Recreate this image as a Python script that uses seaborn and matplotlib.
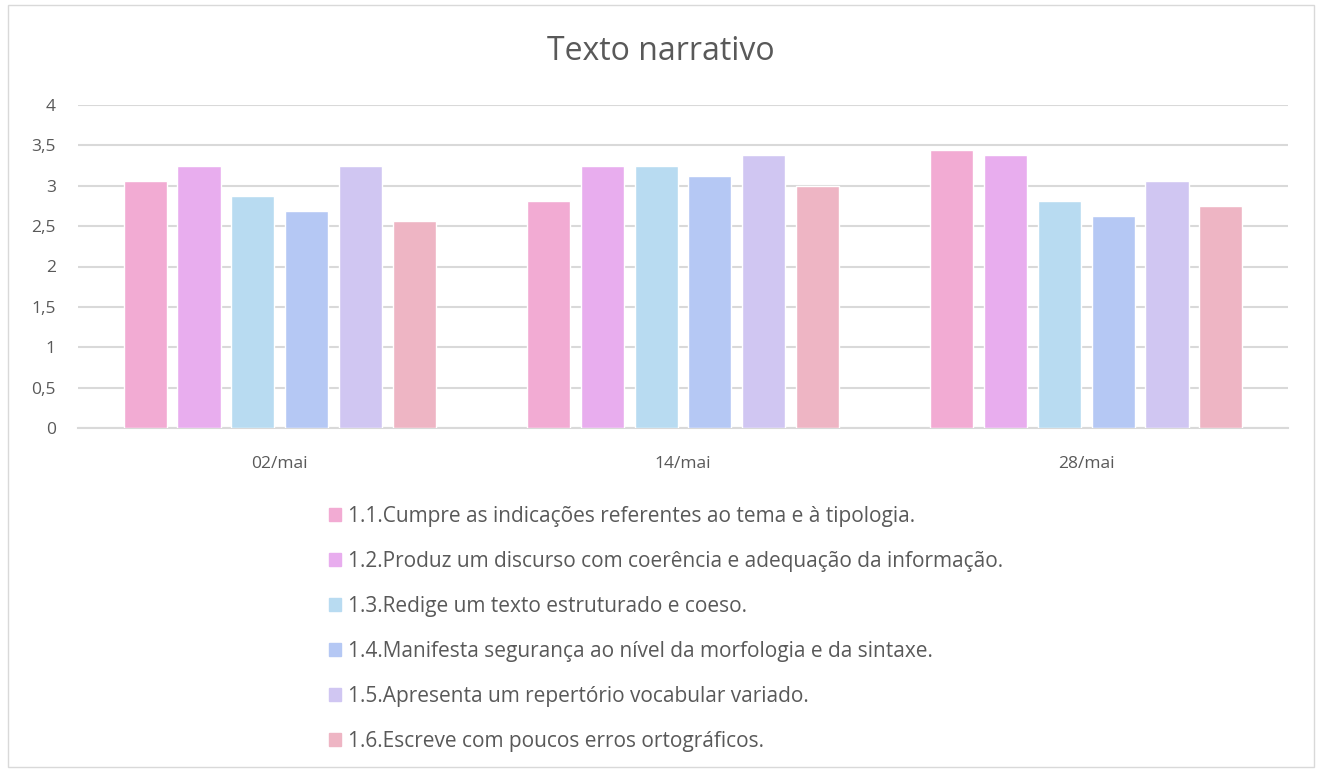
import matplotlib
matplotlib.use("Agg")
import matplotlib.pyplot as plt
import matplotlib.patches as mpatches
import pandas as pd
import seaborn as sns

dates = ["02/mai", "14/mai", "28/mai"]
criteria = [
    "1.1.Cumpre as indicações referentes ao tema e à tipologia.",
    "1.2.Produz um discurso com coerência e adequação da informação.",
    "1.3.Redige um texto estruturado e coeso.",
    "1.4.Manifesta segurança ao nível da morfologia e da sintaxe.",
    "1.5.Apresenta um repertório vocabular variado.",
    "1.6.Escreve com poucos erros ortográficos.",
]
scores = {
    criteria[0]: [3.0625, 2.8125, 3.4375],
    criteria[1]: [3.25, 3.25, 3.375],
    criteria[2]: [2.875, 3.25, 2.8125],
    criteria[3]: [2.6875, 3.125, 2.625],
    criteria[4]: [3.25, 3.375, 3.0625],
    criteria[5]: [2.5625, 3.0, 2.75],
}
colors = ["#F2ABD3", "#E8ADEE", "#B8DBF1", "#B5C8F4", "#D0C6F2", "#EEB5C4"]
y_ticks = [0, 0.5, 1, 1.5, 2, 2.5, 3, 3.5, 4]
y_labels = ["0", "0,5", "1", "1,5", "2", "2,5", "3", "3,5", "4"]

rows = []
for crit in criteria:
    for date, val in zip(dates, scores[crit]):
        rows.append({"data": date, "critério": crit, "valor": val})
df = pd.DataFrame(rows)

sns.set_theme(style="white")
plt.rcParams["font.family"] = ["Open Sans", "DejaVu Sans"]
text_color = "#595959"

fig = plt.figure(figsize=(13.22, 7.69), dpi=100)
ax = fig.add_axes([78 / 1322, 1 - 428 / 769, 1210 / 1322, 323 / 769])

sns.barplot(data=df, x="data", y="valor", hue="critério", hue_order=criteria,
            order=dates, palette=colors, width=0.8, gap=0.2,
            saturation=1, ax=ax, legend=False, zorder=3)

ax.set_ylim(0, 4)
ax.set_yticks(y_ticks)
ax.set_yticklabels(y_labels)
ax.set_xlabel("")
ax.set_ylabel("")
ax.yaxis.grid(True, color="#D9D9D9", linewidth=1.5, zorder=0)
ax.set_axisbelow(True)
for side in ["left", "right", "top"]:
    ax.spines[side].set_visible(False)
ax.spines["bottom"].set_color("#D9D9D9")
ax.spines["bottom"].set_linewidth(1.5)
ax.tick_params(axis="both", length=0, labelsize=12.5, colors=text_color)
ax.tick_params(axis="x", pad=20)
ax.tick_params(axis="y", pad=16)

fig.text(0.5, 1 - 51 / 769, "Texto narrativo", ha="center", va="center",
         fontsize=23, color=text_color)

handles = [mpatches.Patch(color=c, label=l) for c, l in zip(colors, criteria)]
leg = fig.legend(handles=handles, loc="upper left",
                 bbox_to_anchor=(310 / 1322, 1 - 487 / 769), frameon=False,
                 fontsize=15, labelcolor=text_color, handlelength=0.6,
                 handleheight=0.6, handletextpad=0.3, labelspacing=1.15)

border = mpatches.Rectangle((8 / 1322, 2 / 769), 1306 / 1322, 762 / 769,
                            transform=fig.transFigure, fill=False,
                            edgecolor="#D9D9D9", linewidth=1)
fig.patches.append(border)

fig.savefig("out.png", dpi=100)
